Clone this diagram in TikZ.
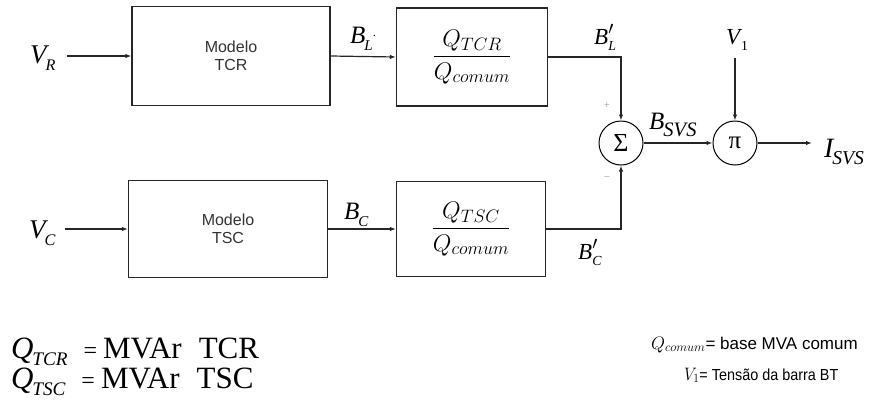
\RequirePackage{fix-cm}
\documentclass[tikz,border=0pt]{standalone}
\usepackage{amsmath}
\usepackage{fontspec}
\usepackage{graphicx}
\setmainfont{Liberation Serif}
\newfontfamily\arial{Liberation Sans}
\usetikzlibrary{arrows.meta}

% italic symbol with a lowered subscript (optional subscript scale)
\newcommand{\symsub}[3][0.6]{\textit{#2\kern-0.04em\raisebox{-0.28em}{\scalebox{#1}{#3}}}}
% italic symbol with a lowered upright subscript
\newcommand{\symsubup}[2]{\textit{#1}\kern-0.06em\raisebox{-0.28em}{\scalebox{0.6}{#2}}}
% italic symbol with prime and lowered subscript
\newcommand{\symprime}[2]{\textit{#1\rlap{\raisebox{0.42em}{\scalebox{0.8}{$\prime$}}}\raisebox{-0.28em}{\scalebox{0.6}{#2}}}}
% quantity with a wide math subscript (math mode)
\newcommand{\qsub}[1]{Q_{\mbox{\fontsize{18}{18}\selectfont$#1$}}}

\begin{document}
\begin{tikzpicture}[x=1pt,y=-1pt,
  blockbox/.style={draw,line width=1.3pt,draw=black!85,inner sep=0pt},
  opcircle/.style={draw,circle,line width=1pt,minimum size=44pt,inner sep=0pt},
  sig/.style={line width=1.2pt,draw=black!85,-{Latex[length=6pt,width=4.5pt]}},
  modeltext/.style={font=\arial\fontsize{16}{18}\selectfont,align=center,text=black!80},
  fractext/.style={font=\fontsize{24}{26}\selectfont},
  lbl/.style={anchor=base west,inner sep=0pt},
  signlbl/.style={font=\fontsize{10}{10}\selectfont,text=black!45,inner sep=0pt}]
\useasboundingbox (0,0) rectangle (870,405);

% blocks
\node[blockbox,minimum width=198pt,minimum height=99pt,modeltext] (tcr) at (231,56) {Modelo\\TCR};
\node[blockbox,minimum width=151pt,minimum height=98pt,fractext] (ktcr) at (472,57)
  {$\dfrac{\qsub{TCR}}{\qsub{comum}}$};
\node[blockbox,minimum width=199pt,minimum height=97pt,modeltext] (tsc) at (228,229) {Modelo\\TSC};
\node[blockbox,minimum width=149pt,minimum height=95pt,fractext] (ktsc) at (471,229)
  {$\dfrac{\qsub{TSC}}{\qsub{comum}}$};

% summing junction and multiplier
\node[opcircle,font=\fontsize{26}{26}\selectfont] (sum) at (621,143) {Σ};
\node[opcircle,font=\fontsize{25}{25}\selectfont] (mul) at (735,143) {π};

% inputs and outputs
\node[lbl,font=\fontsize{27}{27}\selectfont] (vr) at (30,63) {\symsub{V}{R}};
\node[lbl,font=\fontsize{27}{27}\selectfont] (vc) at (29,238) {\symsub{V}{C}};
\node[lbl,font=\fontsize{23}{23}\selectfont] (v1) at (726,44) {\symsubup{V}{1}};
\node[lbl,font=\fontsize{28}{28}\selectfont] (isvs) at (824,157) {\symsub[0.7]{I}{SVS}};
\coordinate (vrend) at (67,56);
\coordinate (vcend) at (65,229);
\coordinate (v1end) at (735,58);
\coordinate (isvsend) at (812,143);

% signal labels
\node[lbl,font=\fontsize{25}{25}\selectfont] (bl) at (350,43) {\symsub{B}{L}\raisebox{0.25em}{\scalebox{0.5}{.}}};
\node[lbl,font=\fontsize{25}{25}\selectfont] (bc) at (344,219) {\symsub{B}{C}};
\node[lbl,font=\fontsize{23}{23}\selectfont] (blp) at (594,44) {\symprime{B}{L}};
\node[lbl,font=\fontsize{23}{23}\selectfont] (bcp) at (578,259) {\symprime{B}{C}};
\node[lbl,font=\fontsize{25}{25}\selectfont] (bsvs) at (649,129) {\symsub[0.82]{B}{SVS}};
\node[signlbl] (plus) at (607,106) {+};
\node[signlbl] (minus) at (607,178) {--};

% connections
\draw[sig] (vrend) -- (tcr.west);
\draw[sig] (vcend) -- (tsc.west);
\draw[sig] (tcr.east) -- (ktcr.west);
\draw[sig] (tsc.east) -- (ktsc.west);
\draw[sig] (ktcr.east) -| (sum.north);
\draw[sig] (ktsc.east) -| (sum.south);
\draw[sig] (sum.east) -- (mul.west);
\draw[sig] (v1end) -- (mul.north);
\draw[sig] (mul.east) -- (isvsend);

% definitions
\node[lbl,font=\fontsize{31}{31}\selectfont] (deftcr) at (11,358)
  {\textit{Q\kern-0.04em\raisebox{-0.25em}{\scalebox{0.62}{TCR}}}\hspace{16pt}{\fontsize{24}{24}\selectfont=}\hspace{6pt}MVAr\hspace{17pt}TCR};
\node[lbl,font=\fontsize{31}{31}\selectfont] (deftsc) at (11,388)
  {\textit{Q\kern-0.04em\raisebox{-0.25em}{\scalebox{0.62}{TSC}}}\hspace{16pt}{\fontsize{24}{24}\selectfont=}\hspace{6pt}MVAr\hspace{17pt}TSC};
\node[lbl,font=\arial\fontsize{17}{18}\selectfont] (defq) at (651,349)
  {{\fontsize{18}{18}\selectfont$Q_{comum}$}= base MVA comum};
\node[lbl,font=\arial\fontsize{16}{18}\selectfont] (defv) at (684,380)
  {\scalebox{0.9}[1]{{\fontsize{18}{18}\selectfont$V_1$}= Tensão da barra BT}};
\end{tikzpicture}
\end{document}
